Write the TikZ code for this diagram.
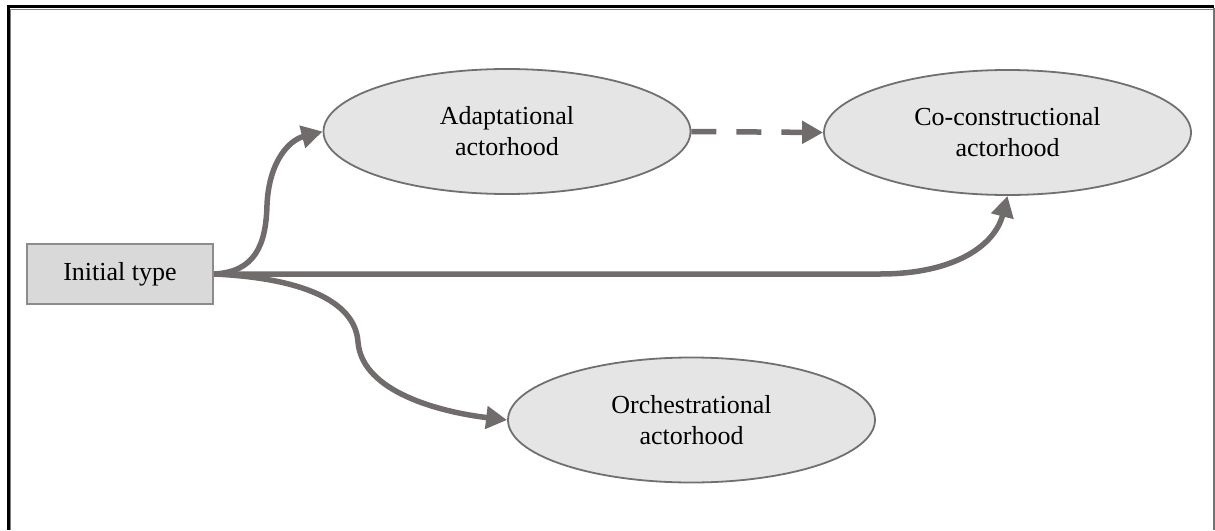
\documentclass[tikz,border=0pt]{standalone}
\usepackage{fontspec}
\setmainfont{Liberation Serif}
\usetikzlibrary{shapes.geometric,arrows.meta}
\definecolor{flowgrey}{RGB}{112,108,108}
\definecolor{ovalfill}{RGB}{229,229,229}
\definecolor{ovalline}{RGB}{112,112,112}
\definecolor{boxfill}{RGB}{217,217,217}
\definecolor{boxline}{RGB}{140,140,140}
\begin{document}
\begin{tikzpicture}[x=1pt,y=-1pt,
  every node/.style={font=\fontsize{26}{31}\selectfont, align=center},
  oval/.style={ellipse, draw=ovalline, line width=1.8pt, fill=ovalfill,
    minimum width=367pt, minimum height=125pt, inner sep=0pt},
  startbox/.style={rectangle, draw=boxline, line width=2pt, fill=boxfill,
    minimum width=186pt, minimum height=60pt, inner sep=0pt},
  flow/.style={draw=flowgrey, line width=5.5pt,
    -{Triangle[length=21pt,width=22pt]}},
]
\useasboundingbox (0,0) rectangle (1215,530);

% frame
\draw[line width=3.2pt, black] (7,6.5) -- (1214,6.5);
\draw[line width=3.2pt, black] (8.5,5) -- (8.5,530);
\draw[line width=1pt, gray] (10,9.5) -- (1213,9.5);
\draw[line width=1pt, gray] (10.5,9) -- (10.5,530);
\draw[line width=1.5pt, gray!90!black] (1213.8,8) -- (1213.8,530);

% nodes
\node[startbox] (init) at (120,274) {Initial type};
\node[oval] (adapt) at (507,131.5) {Adaptational\\actorhood};
\node[oval] (cocon) at (1007.5,132.5) {Co-constructional\\actorhood};
\node[oval] (orch) at (691.5,420) {Orchestrational\\actorhood};

% connectors
\draw[flow] (init.east) .. controls (255,272) and (266,245) .. (267,205)
  .. controls (269,160) and (290,140) .. (adapt.west);
\draw[flow] (init.east) -- (880,274)
  .. controls (955,274) and (995,245) .. (cocon.south);
\draw[flow] (init.east) .. controls (300,278) and (355,300) .. (358,342)
  .. controls (362,392) and (440,412) .. (orch.west);
\draw[flow, dash pattern=on 25pt off 20pt] (adapt.east) -- (cocon.west);
\end{tikzpicture}
\end{document}
